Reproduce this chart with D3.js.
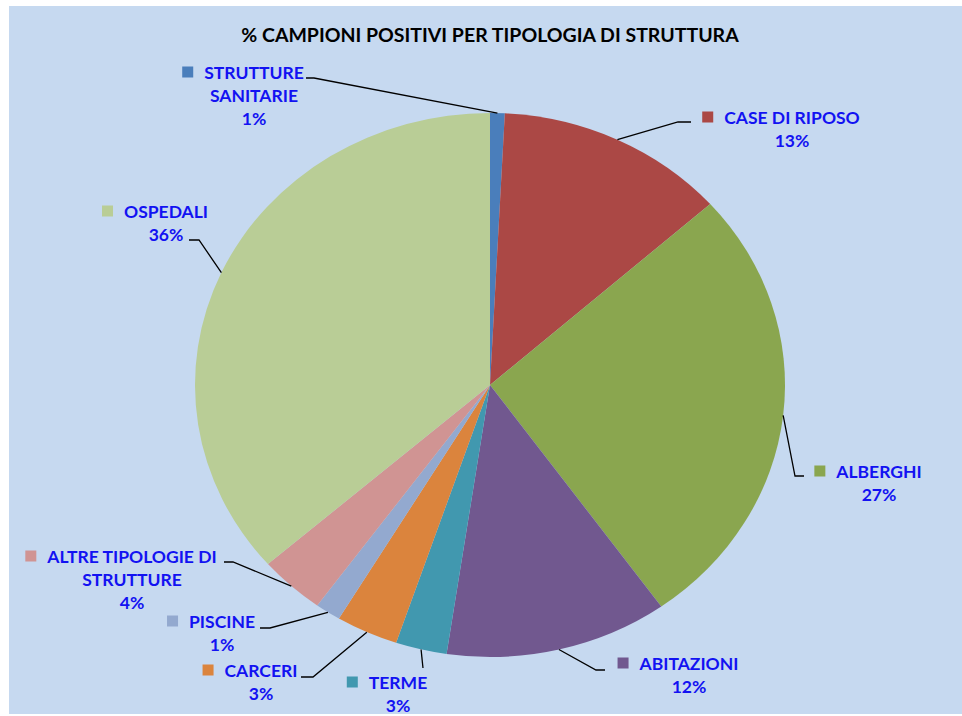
<!DOCTYPE html>
<html>
<head>
<meta charset="utf-8">
<script src="https://cdn.jsdelivr.net/npm/d3@7"></script>
<style>
  body { margin: 0; background: #fff; }
</style>
</head>
<body>
<div id="canvas"></div>
<script>
// data (share of positive samples, %)
var categories = ["STRUTTURE SANITARIE", "CASE DI RIPOSO", "ALBERGHI", "ABITAZIONI", "TERME",
                  "CARCERI", "PISCINE", "ALTRE TIPOLOGIE DI STRUTTURE", "OSPEDALI"];
var values = [0.8, 12.6, 26.7, 12.2, 2.8, 3.4, 1.4, 3.6, 36.4];
var colors = ["#4a7ebb", "#ab4845", "#8aa64f", "#71588f", "#4198af",
              "#db843d", "#93a9cf", "#d09493", "#b9cd96"];
// label text lines (the % line is added from the values)
var labelLines = [["STRUTTURE", "SANITARIE"], ["CASE DI RIPOSO"], ["ALBERGHI"], ["ABITAZIONI"], ["TERME"],
                  ["CARCERI"], ["PISCINE"], ["ALTRE TIPOLOGIE DI", "STRUTTURE"], ["OSPEDALI"]];

// layout: label centre x, first line y, and leader-line bend points
var labelPos = [
    { x: 254, y: 72, pts: [[314, 78], [306, 78]] },
    { x: 792, y: 117, pts: [[678, 122], [691, 122]] },
    { x: 879, y: 471, pts: [[795, 476], [804, 476]] },
    { x: 689, y: 663, pts: [[596, 670], [605, 670]] },
    { x: 398, y: 682, pts: [[423, 668]] },
    { x: 261, y: 670, pts: [[313, 677], [301, 677]] },
    { x: 222, y: 621, pts: [[270, 628], [260, 628]] },
    { x: 132, y: 556, pts: [[233, 562], [224, 562]] },
    { x: 166, y: 211, pts: [[199, 240], [189, 240]] }
];

var width = 962,
    height = 716,
    cx = 490,
    cy = 385,
    rx = 295,
    ry = 272,
    lineH = 23;

var svg = d3.select("#canvas")
    .append("svg")
    .attr("width", width)
    .attr("height", height)
    .style("display", "block");

svg.append("rect")
    .attr("x", 9).attr("y", 6)
    .attr("width", width - 9).attr("height", 708)
    .attr("fill", "#c6d9f0");

svg.append("text")
    .attr("x", cx)
    .attr("y", 42)
    .attr("text-anchor", "middle")
    .style("font-family", "Lato, 'Open Sans', sans-serif")
    .style("font-weight", "bold")
    .style("font-size", "19.5px")
    .attr("fill", "#000")
    .text("% CAMPIONI POSITIVI PER TIPOLOGIA DI STRUTTURA");

var total = d3.sum(values);
var pie = d3.pie().sort(null).value(function(d) { return d; });
var arcs = pie(values);
var arc = d3.arc().innerRadius(0).outerRadius(ry);

// pie drawn as a circle and stretched to an ellipse
svg.append("g")
    .attr("transform", "translate(" + cx + "," + cy + ") scale(" + (rx / ry) + ",1)")
    .selectAll("path")
    .data(arcs)
    .enter()
    .append("path")
    .attr("d", arc)
    .attr("fill", function(d, i) { return colors[i]; });

// leader lines
svg.selectAll("path.leader")
    .data(arcs)
    .enter()
    .append("path")
    .attr("class", "leader")
    .attr("d", function(d, i) {
        var a = (d.startAngle + d.endAngle) / 2;
        var p = [[cx + rx * Math.sin(a), cy - ry * Math.cos(a)]].concat(labelPos[i].pts);
        return d3.line()(p);
    })
    .attr("fill", "none")
    .attr("stroke", "#000")
    .attr("stroke-width", 1.3);

// labels
var lab = svg.selectAll("g.label")
    .data(arcs)
    .enter()
    .append("g")
    .attr("class", "label")
    .style("font-family", "Lato, 'Open Sans', sans-serif")
    .style("font-weight", "bold")
    .style("font-size", "17.5px");

lab.each(function(d, i) {
    var g = d3.select(this);
    var pos = labelPos[i];
    var lines = labelLines[i].concat([Math.round(d.value / total * 100) + "%"]);
    var t = g.append("text")
        .attr("text-anchor", "middle")
        .attr("fill", "#1212f2");
    lines.forEach(function(s, k) {
        t.append("tspan")
            .attr("x", pos.x)
            .attr("y", pos.y + 6.5 + k * lineH)
            .text(s);
    });
    // marker square before the first line
    var w = t.select("tspan").node().getComputedTextLength();
    g.append("rect")
        .attr("x", pos.x - w / 2 - 22)
        .attr("y", pos.y - 5.5)
        .attr("width", 11)
        .attr("height", 11)
        .attr("fill", colors[i]);
});
</script>
</body>
</html>
